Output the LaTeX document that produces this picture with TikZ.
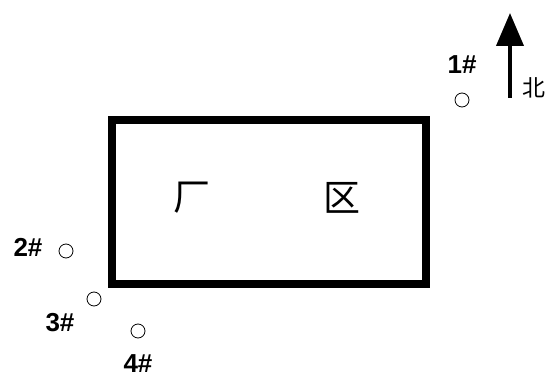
\documentclass[tikz,border=0pt]{standalone}
\usepackage{fontspec}
\setmainfont{Liberation Sans}
\newfontfamily\cjk{Noto Sans CJK SC}
\usetikzlibrary{arrows.meta}
\begin{document}
\begin{tikzpicture}[x=1pt,y=1pt,
  well/.style={circle,draw=black,line width=0.8pt,minimum size=14pt,inner sep=0pt},
  lbl/.style={font=\fontsize{26}{26}\selectfont\bfseries,inner sep=0pt},
  cjkl/.style={font=\cjk\fontsize{37}{37}\selectfont,inner sep=0pt}]
\useasboundingbox (0,0) rectangle (548,378);
% plant boundary
\node[draw=black,line width=8pt,minimum width=314pt,minimum height=164pt,inner sep=0pt] (plant) at (269,176) {};
\node[cjkl] (c1) at (192,180) {厂};
\node[cjkl] (c2) at (342,180) {区};
% north arrow
\coordinate (nb) at (510,280);
\coordinate (nt) at (510,365);
\draw[line width=4pt,-{Triangle[width=27pt,length=33pt]}] (nb) -- (nt);
\node[font=\cjk\fontsize{23}{23}\selectfont,inner sep=0pt] (north) at (534,290) {北};
% wells
\node[well] (w1) at (462,278) {};
\node[lbl] (l1) at (462,313) {1\#};
\node[well] (w2) at (66,127) {};
\node[lbl] (l2) at (28,131) {2\#};
\node[well] (w3) at (94,79) {};
\node[lbl] (l3) at (60,55) {3\#};
\node[well] (w4) at (138,47) {};
\node[lbl] (l4) at (138,14) {4\#};
\end{tikzpicture}
\end{document}
